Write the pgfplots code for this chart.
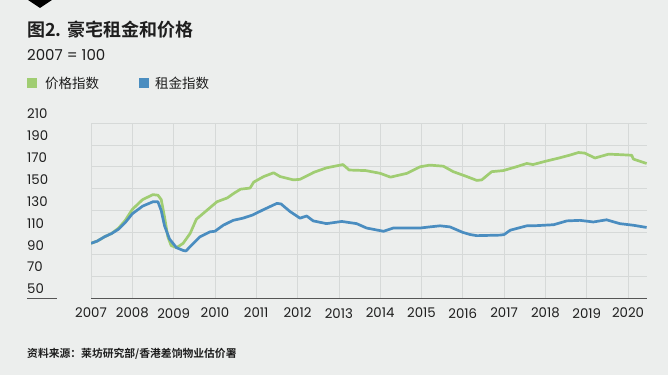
\documentclass[border=0pt]{standalone}
\usepackage{fontspec}
\usepackage{pgfplots}
\pgfplotsset{compat=1.18}
\setmainfont{Poppins}
\newfontfamily\cjk{Noto Sans CJK SC}[BoldFont={Noto Sans CJK SC Bold}]
\definecolor{bg}{HTML}{ECEEED}
\definecolor{pgreen}{HTML}{A0CD72}
\definecolor{rblue}{HTML}{4A8DC0}
\definecolor{gridc}{HTML}{D6D9D8}
\definecolor{axc}{HTML}{555555}
\definecolor{txt}{HTML}{1E1E1E}
\begin{document}
\begin{tikzpicture}
\begin{scope}[x=1pt,y=1pt]
\fill[bg] (0,0) rectangle (668,375);
\useasboundingbox (0,0) rectangle (668,375);
\fill[black] (28,375) -- (52,375) -- (40,367) -- cycle;
\node[anchor=west, inner sep=0, text=txt] at (27,345) {\cjk\bfseries\fontsize{18}{20}\selectfont 图2. 豪宅租金和价格};
\node[anchor=west, inner sep=0, text=txt] at (27,320) {\fontsize{15}{18}\selectfont 2007 = 100};
\fill[pgreen] (27,287) rectangle (37,297);
\node[anchor=west, inner sep=0, text=txt] at (45,292) {\cjk\fontsize{13.5}{16}\selectfont 价格指数};
\fill[rblue] (139,287) rectangle (149,297);
\node[anchor=west, inner sep=0, text=txt] at (155,292) {\cjk\fontsize{13.5}{16}\selectfont 租金指数};
\node[anchor=west, inner sep=0, text=txt] at (27,21) {\cjk\bfseries\fontsize{10.8}{12}\selectfont 资料来源：莱坊研究部/香港差饷物业估价署};
\draw[axc, line width=0.9pt] (27,77) -- (57,77);
\end{scope}
\begin{axis}[at={(91pt,77pt)}, anchor=south west, scale only axis,
  width=556pt, height=175pt,
  xmin=2007, xmax=2020.46, ymin=50, ymax=210,
  axis x line*=bottom, axis y line*=left,
  x axis line style={draw=axc, line width=0.9pt, -},
  y axis line style={draw=none},
  xtick={2007,2008,2009,2010,2011,2012,2013,2014,2015,2016,2017,2018,2019,2020},
  xticklabels={2007,2008,2009,2010,2011,2012,2013,2014,2015,2016,2017,2018,2019,2020},
  ytick={50,70,90,110,130,150,170,190,210},
  yticklabels={50,70,90,110,130,150,170,190,210},
  major tick length=0pt,
  grid=major, major grid style={draw=gridc, line width=0.6pt},
  tick label style={font=\fontsize{13.3}{15}\selectfont, text=txt, inner sep=0pt},
  xticklabel style={anchor=north, yshift=-10pt},
  yticklabel style={anchor=south west, xshift=-64pt, yshift=4pt},
  every axis plot/.append style={line width=2.7pt, line join=round, no markers},
]
\addplot[pgreen] coordinates {
(2007.00,100) (2007.15,102) (2007.33,106) (2007.50,109) (2007.67,114)
(2007.83,121) (2008.00,131) (2008.25,140) (2008.50,144.5) (2008.62,144)
(2008.70,140) (2008.78,124) (2008.86,106) (2008.94,98) (2009.07,96)
(2009.23,100) (2009.40,109) (2009.55,122) (2009.80,130) (2010.05,138)
(2010.30,141.5) (2010.45,145.5) (2010.62,149.5) (2010.85,150.5) (2010.94,156)
(2011.18,161) (2011.42,164.5) (2011.58,161) (2011.90,158) (2012.06,158.5)
(2012.40,165) (2012.70,169) (2013.10,172) (2013.25,167) (2013.65,166.5)
(2014.00,164) (2014.25,160.5) (2014.65,164) (2014.97,170) (2015.20,171.5)
(2015.53,170.5) (2015.77,165.5) (2016.10,161) (2016.34,157.5) (2016.46,158)
(2016.70,165.5) (2016.98,166.5) (2017.30,170) (2017.55,173) (2017.70,172)
(2018.00,175) (2018.33,178) (2018.58,180.5) (2018.80,183) (2018.95,182.5)
(2019.20,178) (2019.53,181.5) (2019.85,181) (2020.09,180.5) (2020.13,177)
(2020.45,173)
};
\addplot[rblue] coordinates {
(2007.00,100) (2007.15,102) (2007.33,106) (2007.50,109) (2007.67,113)
(2007.83,119) (2008.00,127) (2008.25,134) (2008.50,138) (2008.62,138)
(2008.70,130) (2008.78,116) (2008.90,104) (2009.07,96) (2009.23,93.5)
(2009.30,93) (2009.40,97) (2009.64,106) (2009.88,110.5) (2010.00,111)
(2010.20,116.5) (2010.44,121) (2010.68,123) (2010.92,126) (2011.16,130.5)
(2011.50,136.5) (2011.60,136) (2011.82,129) (2012.06,123) (2012.22,125)
(2012.38,120.5) (2012.70,118) (2013.07,120) (2013.43,118) (2013.67,114)
(2014.08,111) (2014.32,114) (2014.97,114) (2015.20,115) (2015.45,116)
(2015.69,115) (2016.00,110) (2016.18,108) (2016.34,107) (2016.90,107.5)
(2017.00,108) (2017.15,112) (2017.55,116) (2017.71,116) (2018.20,117)
(2018.52,120.5) (2018.84,121) (2019.16,119.5) (2019.48,121.5) (2019.80,118)
(2020.13,116.5) (2020.45,114.5)
};
\end{axis}
\end{tikzpicture}
\end{document}
